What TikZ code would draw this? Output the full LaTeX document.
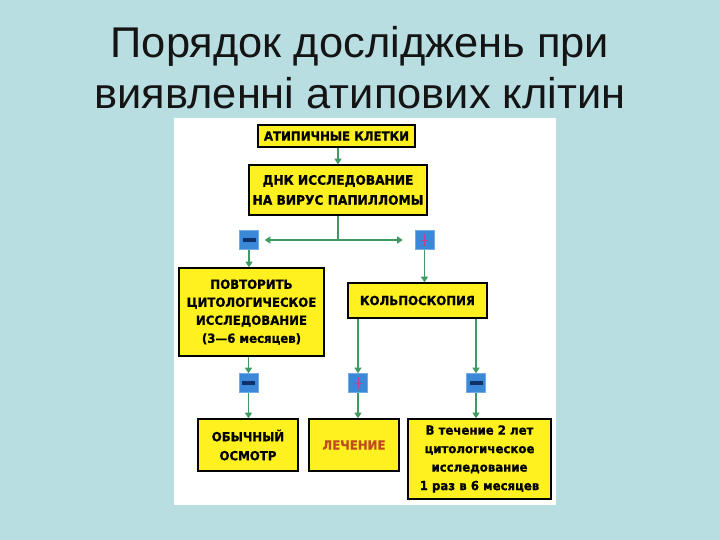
\documentclass[tikz,border=0pt]{standalone}
\usepackage{fontspec}
\usetikzlibrary{arrows.meta}
\newfontfamily\titlefont[FakeStretch=1.01]{Liberation Sans}
\newfontfamily\boxfont[FakeStretch=0.94, BoldFont={* Bold}, BoldFeatures={FakeBold=0.8}]{DejaVu Sans}
\definecolor{bgblue}{HTML}{B8DEE2}
\definecolor{byellow}{HTML}{FFF020}
\definecolor{agreen}{HTML}{3E9A60}
\definecolor{sblue}{HTML}{3C88D8}
\definecolor{snavy}{HTML}{10306A}
\definecolor{spink}{HTML}{C0408A}
\definecolor{tred}{HTML}{C04A20}
\tikzset{
  ybox/.style={draw=black, line width=1.6pt, fill=byellow, inner sep=0pt,
    align=center, font=\boxfont\bfseries\fontsize{12.5}{19}\selectfont},
  sbox/.style={draw=sblue!70!white, line width=0.6pt, fill=sblue, inner sep=0pt,
    minimum width=19, minimum height=19},
  arr/.style={draw=agreen, line width=1.1pt, -{Triangle[width=7pt,length=5.5pt]}},
  ln/.style={draw=agreen, line width=1.1pt},
  ttl/.style={font=\titlefont\fontsize{43}{46}\selectfont, text=black!92, anchor=base, inner sep=0pt},
}
\begin{document}
\begin{tikzpicture}[x=1pt,y=-1pt]
\useasboundingbox (0,0) rectangle (720,540);
\fill[bgblue] (0,0) rectangle (720,540);
\fill[white] (174,118) rectangle (556,505);
\node[ttl] (title1) at (360,58) {Порядок досліджень при};
\node[ttl] (title2) at (360,108.5) {виявленні атипових клітин};

\node[ybox, minimum width=157, minimum height=22] (atip) at (336.5,136) {АТИПИЧНЫЕ КЛЕТКИ};
\node[ybox, minimum width=178, minimum height=50, font=\boxfont\bfseries\fontsize{13}{20}\selectfont] (dnk) at (338,190) {ДНК ИССЛЕДОВАНИЕ\\НА ВИРУС ПАПИЛЛОМЫ};
\node[sbox] (m1) at (249,240) {};
\node[sbox] (p1) at (424.5,240) {};
\node[ybox, minimum width=145, minimum height=88, font=\boxfont\bfseries\fontsize{12.5}{18}\selectfont] (povt) at (251.5,312) {ПОВТОРИТЬ\\ЦИТОЛОГИЧЕСКОЕ\\ИССЛЕДОВАНИЕ\\(3—6 месяцев)};
\node[ybox, minimum width=139, minimum height=35] (kolp) at (417.5,300.5) {КОЛЬПОСКОПИЯ};
\node[sbox] (m2) at (248.5,383) {};
\node[sbox] (p2) at (358,383) {};
\node[sbox] (m3) at (476,383) {};
\node[ybox, minimum width=100, minimum height=52] (osm) at (248,445) {ОБЫЧНЫЙ\\ОСМОТР};
\node[ybox, minimum width=90, minimum height=52, text=tred] (lech) at (354,445) {ЛЕЧЕНИЕ};
\node[ybox, minimum width=143, minimum height=80, font=\boxfont\bfseries\fontsize{12.5}{18.5}\selectfont] (tech) at (479.5,459) {В течение 2 лет\\цитологическое\\исследование\\1 раз в 6 месяцев};

% sign glyphs
\foreach \s in {m1,m2,m3}{\fill[snavy] ([xshift=-6.5,yshift=-2]\s.center) rectangle ([xshift=6.5,yshift=2]\s.center);}
\foreach \s in {p1,p2}{\draw[spink, line width=1pt] ([yshift=-6]\s.center) -- ([yshift=6]\s.center) ([xshift=-3.5]\s.center) -- ([xshift=3.5]\s.center);}

% connectors
\draw[arr] (atip.south -| dnk.center) -- (dnk.north);
\coordinate (j) at (dnk.center |- m1.center);
\draw[ln] (dnk.south) -- (j);
\draw[arr, shorten >=6pt] (j) -- (m1.east);
\draw[arr, shorten >=12pt] (j) -- (p1.west);
\draw[arr] (m1.south) -- (m1.south |- povt.north);
\draw[arr] (p1.south) -- (p1.south |- kolp.north);
\draw[arr] (povt.south -| m2.center) -- (m2.north);
\draw[arr] (kolp.south -| p2.center) -- (p2.north);
\draw[arr] (kolp.south -| m3.center) -- (m3.north);
\draw[arr] (m2.south) -- (m2.south |- osm.north);
\draw[arr] (p2.south) -- (p2.south |- lech.north);
\draw[arr] (m3.south) -- (m3.south |- tech.north);
\end{tikzpicture}
\end{document}
